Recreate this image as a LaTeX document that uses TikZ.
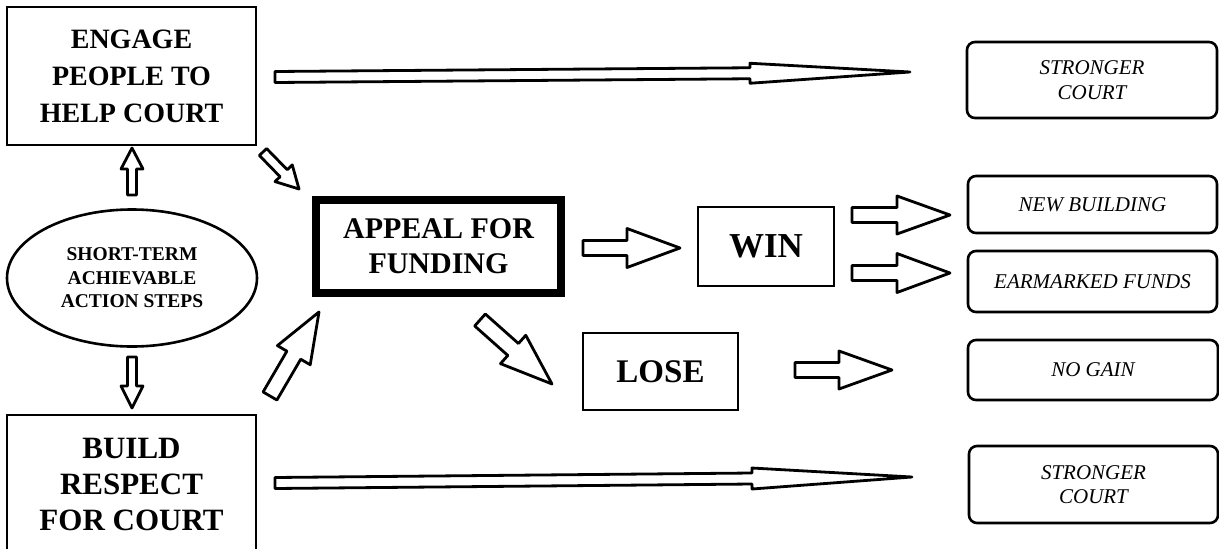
\documentclass[tikz,border=0pt]{standalone}
\usepackage{fontspec}
\setmainfont{Liberation Serif}
\usetikzlibrary{calc,shapes.geometric}

\tikzset{
  plainbox/.style={draw, line width=2.6pt, align=center, inner sep=0pt},
  causebox/.style={plainbox, font=\bfseries\fontsize{28}{37}\selectfont},
  keybox/.style={draw, line width=8pt, align=center, inner sep=0pt,
    font=\bfseries\fontsize{30}{35}\selectfont},
  outcome/.style={plainbox, font=\bfseries\fontsize{35}{40}\selectfont},
  resultbox/.style={draw, line width=2.6pt, rounded corners=8pt, align=center,
    inner sep=0pt, font=\itshape\fontsize{21}{24.5}\selectfont},
  stepsoval/.style={draw, ellipse, line width=2.6pt, align=center, inner sep=0pt,
    font=\bfseries\fontsize{19.5}{23.5}\selectfont},
  arrowshape/.style={draw, line width=2.8pt, fill=white, line join=round},
}

% hollow block arrow: [options]{tail}{tip}{half shaft}{half head}{head length}
\newcommand\blockarrow[6][]{%
  \coordinate (#2-base) at ($(#3)!#6!(#2)$);
  \draw[arrowshape,#1]
    ($(#2)!#4!90:(#3)$) -- ($(#2-base)!#4!90:(#3)$) --
    ($(#2-base)!#5!90:(#3)$) -- (#3) --
    ($(#2-base)!#5!-90:(#3)$) -- ($(#2-base)!#4!-90:(#3)$) --
    ($(#2)!#4!-90:(#3)$) -- cycle;
}

\begin{document}
\begin{tikzpicture}[x=1pt, y=-1pt]
  \fill[white] (0,0) rectangle (1219,549);
  \useasboundingbox (0,0) rectangle (1219,549);

  % left column
  \node[causebox, minimum width=249pt, minimum height=138pt] (engage) at (131.5,76)
    {ENGAGE\\PEOPLE TO\\HELP COURT};
  \node[stepsoval, minimum width=250pt, minimum height=137pt] (steps) at (132,278)
    {SHORT-TERM\\ACHIEVABLE\\ACTION STEPS};
  \node[plainbox, font=\bfseries\fontsize{31}{36}\selectfont,
        minimum width=249pt, minimum height=138pt] (build) at (131.5,484)
    {BUILD\\RESPECT\\FOR COURT};

  % middle column
  \node[keybox, minimum width=245pt, minimum height=93pt] (appeal) at (438.5,246.5)
    {APPEAL FOR\\FUNDING};
  \node[outcome, minimum width=136pt, minimum height=79pt] (win) at (766,246.5) {WIN};
  \node[outcome, font=\bfseries\fontsize{33}{38}\selectfont,
        minimum width=155pt, minimum height=77pt] (lose) at (660.5,371.5) {LOSE};

  % right column
  \node[resultbox, minimum width=250pt, minimum height=76pt] (strong1) at (1092,80)
    {STRONGER\\COURT};
  \node[resultbox, minimum width=249pt, minimum height=57pt] (newbld) at (1092.5,204.5)
    {NEW BUILDING};
  \node[resultbox, minimum width=249pt, minimum height=61pt] (earmark) at (1092.5,281.5)
    {EARMARKED FUNDS};
  \node[resultbox, minimum width=250pt, minimum height=60pt] (nogain) at (1093,370)
    {NO GAIN};
  \node[resultbox, minimum width=249pt, minimum height=77pt] (strong2) at (1093.5,484.5)
    {STRONGER\\COURT};

  % arrow end points
  \coordinate (upT) at (132,195);   \coordinate (upH) at (132,148);
  \coordinate (dnT) at (132,357);   \coordinate (dnH) at (132,408);
  \coordinate (egT) at (263,152);   \coordinate (egH) at (299,189);
  \coordinate (bdT) at (270,396);   \coordinate (bdH) at (319,312);
  \coordinate (lsT) at (480,320);   \coordinate (lsH) at (552,384);
  \coordinate (wnT) at (583,248);   \coordinate (wnH) at (680,248);
  \coordinate (nbT) at (852,215);   \coordinate (nbH) at (950,215);
  \coordinate (emT) at (852,273);   \coordinate (emH) at (950,273);
  \coordinate (ngT) at (795,370);   \coordinate (ngH) at (892,370);
  \coordinate (s1T) at (275,77);    \coordinate (s1H) at (910,72);
  \coordinate (s2T) at (275,483);   \coordinate (s2H) at (912,477);

  % small arrows around the action steps
  \blockarrow{upT}{upH}{4.5pt}{11pt}{21pt}
  \blockarrow{dnT}{dnH}{4.5pt}{11pt}{22pt}
  \blockarrow{egT}{egH}{5pt}{12pt}{22pt}

  % arrows into and out of the appeal
  \blockarrow{bdT}{bdH}{8pt}{19pt}{50pt}
  \blockarrow{lsT}{lsH}{8pt}{19pt}{52pt}
  \blockarrow{wnT}{wnH}{7.5pt}{19.5pt}{53pt}

  % arrows to the results
  \blockarrow{nbT}{nbH}{7.5pt}{19pt}{53pt}
  \blockarrow{emT}{emH}{7.5pt}{19.5pt}{53pt}
  \blockarrow{ngT}{ngH}{7.5pt}{19pt}{53pt}

  % long arrows straight to a stronger court
  \blockarrow{s1T}{s1H}{5.5pt}{10pt}{160pt}
  \blockarrow{s2T}{s2H}{5.5pt}{10.5pt}{160pt}
\end{tikzpicture}
\end{document}
